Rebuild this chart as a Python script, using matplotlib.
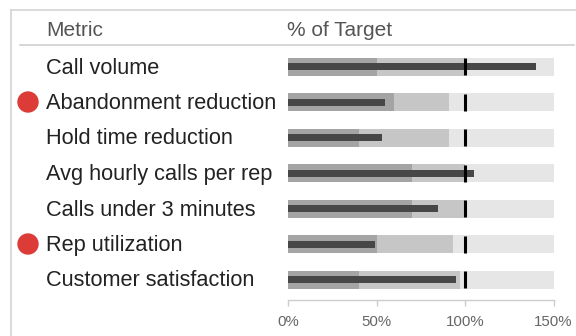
import matplotlib
matplotlib.use("Agg")
import matplotlib.pyplot as plt
from matplotlib.lines import Line2D
from matplotlib.patches import Ellipse

plt.rcParams["font.family"] = ["Liberation Sans", "DejaVu Sans"]

# data
metrics = [
    "Call volume",
    "Abandonment reduction",
    "Hold time reduction",
    "Avg hourly calls per rep",
    "Calls under 3 minutes",
    "Rep utilization",
    "Customer satisfaction",
]
range_poor = [50, 60, 40, 70, 70, 50, 40]
range_ok = [100, 91, 91, 100, 100, 93, 97]
range_good = [150, 150, 150, 150, 150, 150, 150]
measure = [140, 55, 53, 105, 85, 49, 95]
target = [100, 100, 100, 100, 100, 100, 100]
flagged = [False, True, False, False, False, True, False]
ticks = [0, 50, 100, 150]
tick_labels = ["0%", "50%", "100%", "150%"]

W, H = 576, 336
ROW0, ROWSTEP = 66.5, 35.5
AX_TOP, AX_BOT = 48, 300
X0, X1 = 288, 553.5


def fx(px):
    return px / W


def fy(py):
    return 1 - py / H


fig = plt.figure(figsize=(W / 100, H / 100), dpi=100, facecolor="white")
ax = fig.add_axes([fx(X0), fy(AX_BOT), fx(X1 - X0), (AX_BOT - AX_TOP) / H])

ypos = list(range(len(metrics)))
band_h = 18 / ROWSTEP
ax.barh(ypos, range_good, height=band_h, color="#e6e6e6", zorder=1)
ax.barh(ypos, range_ok, height=band_h, color="#c6c6c6", zorder=2)
ax.barh(ypos, range_poor, height=band_h, color="#a4a4a4", zorder=3)
ax.barh(ypos, measure, height=7 / ROWSTEP, color="#474747", zorder=4)
for y, t in zip(ypos, target):
    ax.plot([t, t], [y - 8.5 / ROWSTEP, y + 8.5 / ROWSTEP], color="black",
            lw=2.2, solid_capstyle="butt", zorder=5)

ax.set_xlim(0, 150)
ax.set_ylim((AX_BOT - ROW0) / ROWSTEP, (AX_TOP - ROW0) / ROWSTEP)
ax.set_yticks([])
ax.set_xticks(ticks)
ax.set_xticklabels(tick_labels)
ax.tick_params(axis="x", direction="out", length=4.5, width=1, color="#cccccc",
               labelcolor="#666666", labelsize=10.8, pad=6.5)
for side in ["top", "right", "left"]:
    ax.spines[side].set_visible(False)
ax.spines["bottom"].set_color("#cccccc")
ax.spines["bottom"].set_linewidth(1)
ax.set_facecolor("none")

# frame and header
fig.add_artist(Line2D([fx(11), fx(11)], [fy(9.5), 0], color="#d4d4d4", lw=1.2))
fig.add_artist(Line2D([fx(11), 1], [fy(9.5), fy(9.5)], color="#d4d4d4", lw=1.2))
fig.add_artist(Line2D([fx(20), fx(574)], [fy(44.5), fy(44.5)], color="#d0d0d0", lw=1.2))
fig.text(fx(46), fy(31), "Metric", color="#555555", fontsize=15, va="center")
fig.text(fx(287), fy(31), "% of Target", color="#555555", fontsize=15, va="center")

for i, (name, flag) in enumerate(zip(metrics, flagged)):
    yc = ROW0 + ROWSTEP * i
    fig.text(fx(46), fy(yc + 1.5), name, color="#222222", fontsize=15.7, va="center")
    if flag:
        fig.add_artist(Ellipse((fx(28), fy(yc)), width=20 / W, height=20 / H,
                               color="#dc3b37", transform=fig.transFigure))

fig.savefig("out.png", dpi=100, facecolor="white")
